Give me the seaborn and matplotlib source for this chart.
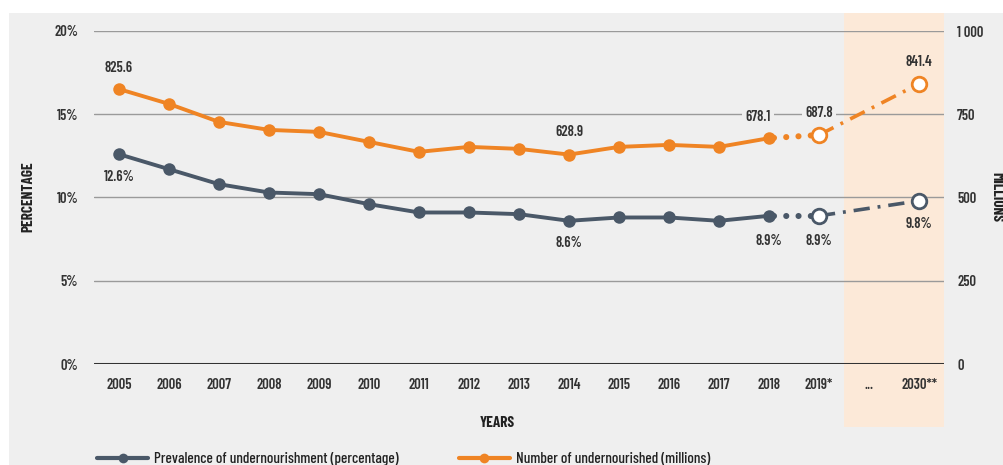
import matplotlib
matplotlib.use("Agg")
import matplotlib.pyplot as plt
from matplotlib.lines import Line2D
import seaborn as sns
import pandas as pd

sns.set_theme(style="white")
FONT = ["Barlow Condensed", "DejaVu Sans"]
plt.rcParams["font.family"] = FONT

# Categories along the x axis
years = ["2005", "2006", "2007", "2008", "2009", "2010", "2011", "2012", "2013",
         "2014", "2015", "2016", "2017", "2018", "2019*", "...", "2030**"]

# Observed series, 2005-2018
obs_years = ["2005", "2006", "2007", "2008", "2009", "2010", "2011", "2012", "2013",
             "2014", "2015", "2016", "2017", "2018"]
prevalence = [12.6, 11.7, 10.8, 10.3, 10.2, 9.6, 9.1, 9.1, 9.0, 8.6, 8.8, 8.8, 8.6, 8.9]
undernourished = [825.6, 781, 727, 703, 697, 667, 637, 652, 646, 628.9, 652, 658, 652, 678.1]

# Nowcast (2019) and projection (2030)
prevalence_2019 = 8.9
prevalence_2030 = 9.8
undernourished_2019 = 687.8
undernourished_2030 = 841.4

GREY = "#4a5868"
ORANGE = "#ef8424"
BG = "#efefef"
SHADE = "#fce9d8"
TEXT = "#333333"

pos = {y: i for i, y in enumerate(years)}
i2018 = pos["2018"]
i2019 = pos["2019*"]
i2030 = pos["2030**"]

df = pd.DataFrame({
    "x": [pos[y] for y in obs_years],
    "prevalence": prevalence,
    "undernourished": undernourished,
})

fig = plt.figure(figsize=(10.04, 4.65), dpi=100, facecolor="white")
fig.patches.append(plt.Rectangle((9 / 1004, 0), 1 - 9 / 1004, 1 - 13 / 465,
                                 transform=fig.transFigure, facecolor=BG,
                                 edgecolor="none", zorder=-10))

ax = fig.add_axes([94 / 1004, 1 - 364 / 465, 850 / 1004, 333 / 465])
ax.set_facecolor("none")
ax2 = ax.twinx()
ax2.set_facecolor("none")

ax.set_xlim(-0.5, 16.5)
ax.set_ylim(0, 20)
ax2.set_ylim(0, 1000)

# projection band
ax.axvspan(i2019 + 0.5, i2030 + 0.5, ymin=-0.19, ymax=1.054, clip_on=False,
           color=SHADE, zorder=0, lw=0)

# gridlines
for v in [5, 10, 15, 20]:
    ax.axhline(v, color="#9a9a9a", lw=1.0, zorder=1)
ax.axhline(0, color="#333333", lw=2.2, zorder=1)

for a in (ax, ax2):
    for s in a.spines.values():
        s.set_visible(False)

label_font = dict(fontsize=10.5, color=TEXT, fontweight="semibold")

ax.set_xticks(range(len(years)))
ax.set_xticklabels(years, **label_font)
ax.set_yticks([0, 5, 10, 15, 20])
ax.set_yticklabels(["0%", "5%", "10%", "15%", "20%"], **label_font)
ax2.set_yticks([0, 250, 500, 750, 1000])
ax2.set_yticklabels(["0", "250", "500", "750", "1 000"], **label_font)
ax.tick_params(axis="x", length=0, pad=10)
ax.tick_params(axis="y", length=0, pad=11.5)
ax2.tick_params(axis="y", length=0, pad=9.5)

# observed lines
sns.lineplot(data=df, x="x", y="prevalence", ax=ax, color=GREY, lw=2.8,
             marker="o", markersize=9, markeredgewidth=0, zorder=5, legend=False)
sns.lineplot(data=df, x="x", y="undernourished", ax=ax2, color=ORANGE, lw=2.8,
             marker="o", markersize=9, markeredgewidth=0, zorder=5, legend=False)
ax.set_xlabel("")
ax.set_ylabel("")
ax2.set_xlabel("")
ax2.set_ylabel("")

# 2018 -> 2019 dotted, 2019 -> 2030 dash-dot
for a, c, v18, v19, v30 in [(ax, GREY, prevalence[-1], prevalence_2019, prevalence_2030),
                             (ax2, ORANGE, undernourished[-1], undernourished_2019, undernourished_2030)]:
    a.plot([i2018, i2019], [v18, v19], color=c, lw=4.4,
           linestyle=(1.2, (0.01, 2.0)), dash_capstyle="round", zorder=4)
    a.plot([i2019, i2030], [v19, v30], color=c, lw=2.6,
           linestyle=(0, (4.5, 2.2, 0.8, 2.2)), zorder=4)
    a.plot([i2019, i2030], [v19, v30], linestyle="none", marker="o", markersize=10.5,
           markerfacecolor="white", markeredgecolor=c, markeredgewidth=2.0, zorder=6)

ann = dict(ha="center", va="center", fontsize=10.5, color=TEXT, fontweight="semibold",
           textcoords="offset points")
box = dict(boxstyle="square,pad=0.25", facecolor=BG, edgecolor="none")

ax2.annotate("825.6", (0, undernourished[0]), xytext=(0, 15.5), **ann)
ax2.annotate("628.9", (pos["2014"], undernourished[9]), xytext=(0, 16), **ann)
ax2.annotate("678.1", (i2018, undernourished[-1]), xytext=(-8, 15), bbox=box, **ann)
ax2.annotate("687.8", (i2019, undernourished_2019), xytext=(0, 16), bbox=box, **ann)
ax2.annotate("841.4", (i2030, undernourished_2030), xytext=(0, 16), **ann)

ax.annotate("12.6%", (0, prevalence[0]), xytext=(0, -16.5), **ann)
ax.annotate("8.6%", (pos["2014"], prevalence[9]), xytext=(0, -16), **ann)
ax.annotate("8.9%", (i2018, prevalence[-1]), xytext=(0, -18), **ann)
ax.annotate("8.9%", (i2019, prevalence_2019), xytext=(0, -18), **ann)
ax.annotate("9.8%", (i2030, prevalence_2030), xytext=(0, -17), **ann)

# axis titles
fig.text(28 / 1004, 1 - 197 / 465, "PERCENTAGE", rotation=90, ha="center", va="center",
         fontsize=11, fontweight="bold", color="#222222")
fig.text(996 / 1004, 1 - 197 / 465, "MILLIONS", rotation=270, ha="center", va="center",
         fontsize=11, fontweight="bold", color="#222222")
fig.text(497 / 1004, 1 - 423 / 465, "YEARS", ha="center", va="center",
         fontsize=11, fontweight="bold", color="#222222")

handles = [
    Line2D([], [], color=GREY, lw=3, marker="o", markersize=7, markeredgewidth=0),
    Line2D([], [], color=ORANGE, lw=3, marker="o", markersize=7, markeredgewidth=0),
]
fig.legend(handles, ["Prevalence of undernourishment (percentage)",
                     "Number of undernourished (millions)"],
           loc="center left", bbox_to_anchor=(97 / 1004, 6 / 465), ncol=2,
           frameon=False, borderpad=0, borderaxespad=0, handlelength=3.35,
           handletextpad=0.4, columnspacing=3.9,
           prop=dict(family=FONT, size=11, weight="medium"),
           labelcolor="#222222")

fig.savefig("out.png", dpi=100, facecolor="white")
